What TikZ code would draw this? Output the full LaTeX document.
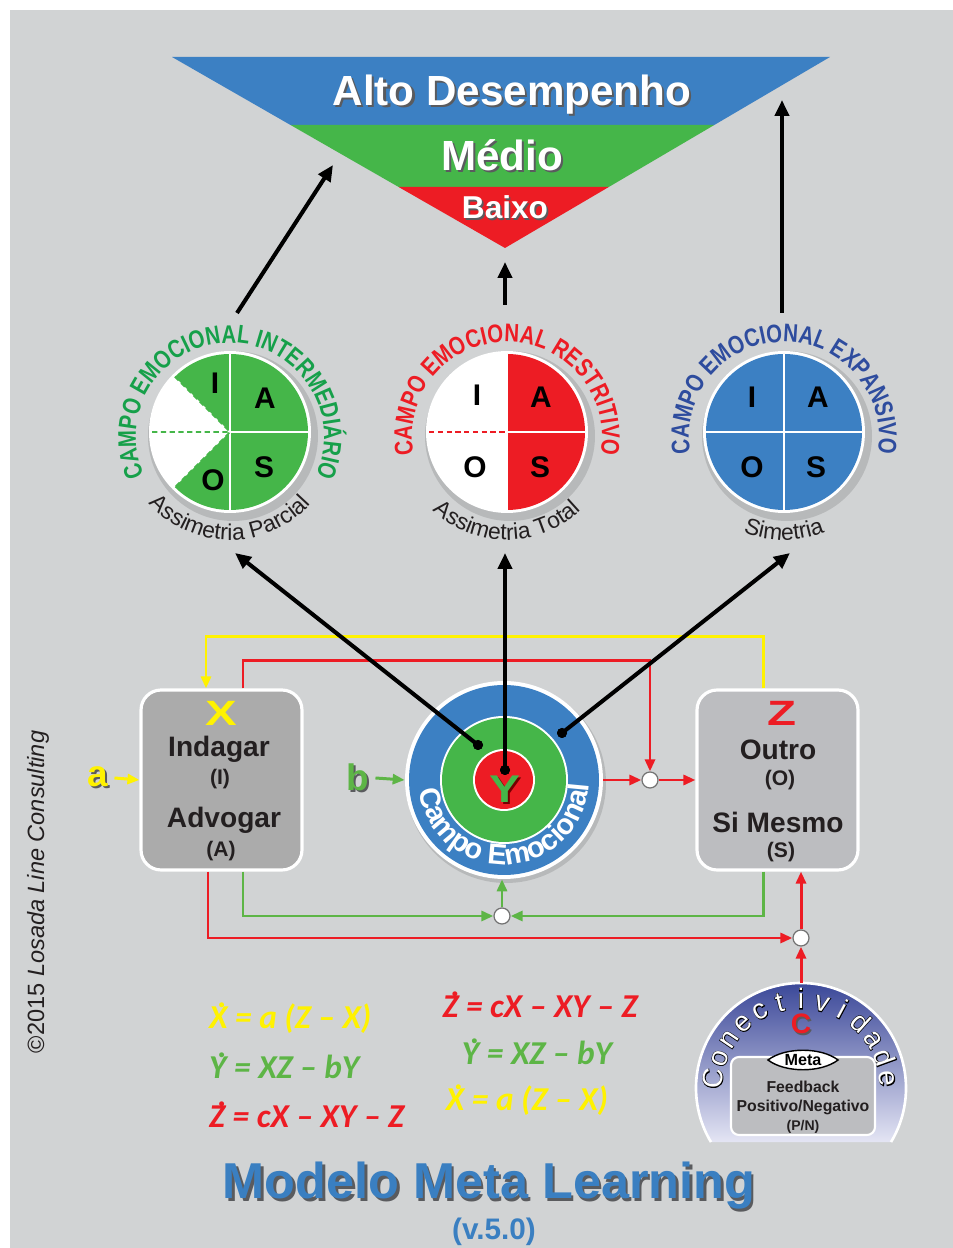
\documentclass[tikz,border=0pt]{standalone}
\usepackage{fontspec}
\setmainfont{Liberation Sans}
\newfontfamily\condfont[FakeStretch=0.8]{Liberation Sans}
\newfontfamily\outfont[FakeBold=4]{Liberation Sans}
\newfontfamily\eqfont{Carlito}
\usetikzlibrary{arrows.meta,decorations.text,calc}

\definecolor{bgGray}{HTML}{D1D3D4}
\definecolor{ceBlue}{HTML}{3C80C3}
\definecolor{ceGreen}{HTML}{45B649}
\definecolor{ceRed}{HTML}{ED1C24}
\definecolor{txtGreen}{HTML}{16A04A}
\definecolor{txtBlue}{HTML}{2E4C9E}
\definecolor{txtDark}{HTML}{231F20}
\definecolor{lnYellow}{HTML}{FFF200}
\definecolor{lnGreen}{HTML}{5DB546}
\definecolor{boxDark}{HTML}{ABABAB}
\definecolor{boxLight}{HTML}{BCBDC0}
\definecolor{domeTop}{HTML}{2B3990}
\definecolor{domeMid}{HTML}{6C72BC}
\definecolor{domeBot}{HTML}{E4E5F4}
\definecolor{titleBlue}{HTML}{3A7FC1}
\definecolor{shade}{HTML}{5A5B5E}

\newcommand\fsz[1]{\fontsize{#1}{#1}\selectfont}
\newcommand\eqdot[1]{\leavevmode\rlap{\hspace{0.26em}\raisebox{0.64em}{.}}#1}
\newcommand\shadowed[2]{\leavevmode\rlap{\hspace{0.05em}\raisebox{-0.05em}{\color{#1}#2}}#2}
\newcommand\outlined[1]{\leavevmode\rlap{\outfont\color{black}#1}{\color{white}#1}}

\begin{document}
\begin{tikzpicture}[x=0.02cm, y=0.02cm,
    arrowblack/.style={line width=2.3pt, draw=black, -{Triangle[length=0.32cm, width=0.28cm]}},
    arrowcol/.style={line width=1.7pt, -{Triangle[length=0.24cm, width=0.2cm]}},
    lineyel/.style={arrowcol, draw=lnYellow},
    linered/.style={arrowcol, draw=ceRed},
    linegrn/.style={arrowcol, draw=lnGreen},
    fieldletter/.style={font=\bfseries\fsz{17}, text=black},
    boxtitle/.style={font=\bfseries\fsz{16}, text=txtDark},
    boxsub/.style={font=\bfseries\fsz{12}, text=txtDark},
    varbox/.style={rounded corners=0.4cm, draw=white, line width=1.8pt, minimum width=3.22cm, minimum height=3.6cm},
    junction/.style={circle, draw=black!55, fill=white, line width=0.7pt, minimum size=0.32cm, inner sep=0pt},
    blackdot/.style={circle, fill=black, minimum size=0.2cm, inner sep=0pt},
    eqtext/.style={font=\eqfont\bfseries\itshape\fsz{19}},
    conletter/.style={font=\fsz{16}},
  ]
  \useasboundingbox (0,0) rectangle (953,1248);
  \fill[white] (0,0) rectangle (953,1248);
  \fill[bgGray] (10,0) rectangle (953,1238);

  % Funnel of performance
  \fill[ceBlue] (172,1191) -- (830,1191) -- (714.3,1123) -- (290.5,1123) -- cycle;
  \fill[ceGreen] (290.5,1123) -- (714.3,1123) -- (608.8,1061) -- (398.6,1061) -- cycle;
  \fill[ceRed] (398.6,1061) -- (608.8,1061) -- (505,1000) -- cycle;
  \node[text=white, font=\bfseries\fsz{24}] (alto) at (512,1152) {\shadowed{shade}{Alto Desempenho}};
  \node[text=white, font=\bfseries\fsz{24}] (medio) at (502,1092) {\shadowed{shade}{Médio}};
  \node[text=white, font=\bfseries\fsz{18}] (baixo) at (505,1040) {\shadowed{shade}{Baixo}};
  \coordinate (funL) at (333,1083);
  \coordinate (funM) at (505,986);
  \coordinate (funR) at (782,1148);

  % Campo emocional intermediario
  \begin{scope}[shift={(230,816)}]
    \fill[black, opacity=0.12] (3,-4) circle (85);
    \node (ceInter) [circle, fill=white, minimum size=3.24cm, inner sep=0pt] at (0,0) {};
    \fill[ceGreen] (0,0) -- (135:78) arc[start angle=135, end angle=-135, radius=78] -- cycle;
    \draw[white, line width=1.2pt] (0,78) -- (0,-78) (0,0) -- (78,0);
    \draw[ceGreen, line width=1pt, dash pattern=on 3pt off 2pt] (135:78) -- (0,0) -- (225:78) (180:78) -- (0,0);
    \node[fieldletter] (iInt) at (-15,49) {I};
    \node[fieldletter] (aInt) at (35,34) {A};
    \node[fieldletter] (oInt) at (-17,-48) {O};
    \node[fieldletter] (sInt) at (34,-35) {S};
    \path[decorate, decoration={text along path, text align=center, text color=txtGreen,
        text={|\condfont\bfseries\fsz{14.5}|CAMPO EMOCIONAL INTERMEDIÁRIO}}]
      (0,-5) ++(214:94) arc[start angle=214, end angle=-34, radius=94];
    \path[decorate, decoration={text along path, text align=center, text color=txtDark,
        text={|\fsz{13}|Assimetria Parcial}}]
      (0,0) ++(212:108) arc[start angle=212, end angle=328, radius=108];
    \coordinate (topInter) at (7,119);
    \coordinate (tipInter) at (5,-121);
  \end{scope}

  % Campo emocional restritivo
  \begin{scope}[shift={(507,816)}]
    \fill[black, opacity=0.12] (3,-4) circle (85);
    \node (ceRestr) [circle, fill=white, minimum size=3.24cm, inner sep=0pt] at (0,0) {};
    \fill[ceRed] (0,78) arc[start angle=90, end angle=-90, radius=78] -- cycle;
    \draw[white, line width=1.2pt] (0,78) -- (0,-78) (0,0) -- (78,0);
    \draw[ceRed, line width=1pt, dash pattern=on 3pt off 2pt] (180:78) -- (0,0);
    \node[fieldletter] (iRes) at (-30,37) {I};
    \node[fieldletter] (aRes) at (34,35) {A};
    \node[fieldletter] (oRes) at (-32,-35) {O};
    \node[fieldletter] (sRes) at (33,-35) {S};
    \path[decorate, decoration={text along path, text align=center, text color=ceRed,
        text={|\condfont\bfseries\fsz{14.5}|CAMPO EMOCIONAL RESTRITIVO}}]
      (0,-5) ++(200:95) arc[start angle=200, end angle=-20, radius=95];
    \path[decorate, decoration={text along path, text align=center, text color=txtDark,
        text={|\fsz{13}|Assimetria Total}}]
      (0,0) ++(212:108) arc[start angle=212, end angle=328, radius=108];
    \coordinate (topRestr) at (-2,127);
    \coordinate (tipRestr) at (-2,-121);
  \end{scope}

  % Campo emocional expansivo
  \begin{scope}[shift={(784,816)}]
    \fill[black, opacity=0.12] (3,-4) circle (85);
    \node (ceExp) [circle, fill=white, minimum size=3.24cm, inner sep=0pt] at (0,0) {};
    \fill[ceBlue] (0,0) circle (78);
    \draw[white, line width=1.2pt] (0,78) -- (0,-78) (-78,0) -- (78,0);
    \node[fieldletter] (iExp) at (-32,35) {I};
    \node[fieldletter] (aExp) at (34,35) {A};
    \node[fieldletter] (oExp) at (-32,-35) {O};
    \node[fieldletter] (sExp) at (32,-35) {S};
    \path[decorate, decoration={text along path, text align=center, text color=txtBlue,
        text={|\condfont\bfseries\fsz{14.5}|CAMPO EMOCIONAL EXPANSIVO}}]
      (0,-5) ++(200:95) arc[start angle=200, end angle=-20, radius=95];
    \path[decorate, decoration={text along path, text align=center, text color=txtDark,
        text={|\fsz{13}|Simetria}}]
      (0,0) ++(240:108) arc[start angle=240, end angle=300, radius=108];
    \coordinate (topExp) at (-2,119);
    \coordinate (tipExp) at (6,-121);
  \end{scope}

  % Arrows to the funnel
  \draw[arrowblack] (topInter) -- (funL);
  \draw[arrowblack] (topRestr) -- (funM);
  \draw[arrowblack] (topExp) -- (funR);

  % Feedback loops
  \node[junction] (j1) at (650,468) {};
  \node[junction] (j2) at (502,332) {};
  \node[junction] (j3) at (801,310) {};
  \node (xbox) [varbox, fill=boxDark] at (221.5,468) {};
  \node (zbox) [varbox, fill=boxLight] at (777.5,468) {};
  \draw[lineyel] ([xshift=-0.29cm]zbox.north) -- ++(0,52) -| ([xshift=-0.31cm]xbox.north);
  \draw[linered] ([xshift=0.43cm]xbox.north) -- ++(0,28) -| (j1.north);
  \draw[linegrn] ([xshift=0.43cm]xbox.south) |- (j2.west);
  \draw[linegrn] ([xshift=-0.29cm]zbox.south) |- (j2.east);
  \draw[linered] ([xshift=-0.27cm]xbox.south) |- (j3.west);
  \draw[linered] (j1.east) -- (zbox.west);
  \draw[linered] (j3.north) -- (j3.north |- zbox.south);

  % Campo emocional (Y)
  \fill[black, opacity=0.12] (506,465) circle (100);
  \node (cem) [circle, fill=white, minimum size=3.96cm, inner sep=0pt] at (504,468) {};
  \fill[ceBlue] (cem.center) circle (95);
  \fill[white] (cem.center) circle (64);
  \fill[ceGreen] (cem.center) circle (62);
  \fill[white] (cem.center) circle (31);
  \fill[ceRed] (cem.center) circle (29);
  \path[decorate, decoration={text along path, text align=center, text color=white,
      text={|\bfseries\fsz{16.5}|Campo Emocional}}]
    (cem.center) ++(178:85) arc[start angle=178, end angle=366, radius=85];
  \node[text=ceGreen, font=\bfseries\fsz{22}, xscale=1.2] (yVar) at (505,458) {\shadowed{red!45!black}{Y}};
  \draw[linered] (cem.east) -- (j1.west);
  \draw[linegrn] (j2.north) -- (j2.north |- cem.south);

  % Arrows from the field
  \node[blackdot] (dotL) at (478,503) {};
  \node[blackdot] (dotM) at (505,478) {};
  \node[blackdot] (dotR) at (562,515) {};
  \draw[arrowblack] (dotL.center) -- (tipInter);
  \draw[arrowblack] (dotM.center) -- (tipRestr);
  \draw[arrowblack] (dotR.center) -- (tipExp);
  \fill (dotL) circle (5) (dotM) circle (5) (dotR) circle (5);

  % Box texts
  \node[text=lnYellow, font=\bfseries\fsz{20}, xscale=1.35] (xVar) at (221,535) {X};
  \node[boxtitle] (indagar) at (219,499) {Indagar};
  \node[boxsub] (iLab) at (220,469) {(I)};
  \node[boxtitle] (advogar) at (224,428) {Advogar};
  \node[boxsub] (aLab) at (221,397) {(A)};
  \node[text=ceRed, font=\bfseries\fsz{20}, xscale=1.35] (zVar) at (782,535) {Z};
  \node[boxtitle] (outro) at (778,498) {Outro};
  \node[boxsub] (oLab) at (780,468) {(O)};
  \node[boxtitle] (simesmo) at (778,426) {Si Mesmo};
  \node[boxsub] (sLab) at (781,396) {(S)};

  % Parameters a and b
  \node[text=lnYellow, font=\bfseries\fsz{21}] (alab) at (98,470) {\shadowed{shade}{a}};
  \draw[lineyel] (alab.east) -- (xbox.west);
  \node[text=lnGreen, font=\bfseries\fsz{21}] (blab) at (358,470) {\shadowed{shade}{b}};
  \draw[linegrn] (blab.east) -- (cem.west);

  % Conectividade
  \coordinate (domeC) at (801,160);
  \shade[top color=domeTop, middle color=domeMid, bottom color=domeBot]
    (domeC) ++(-31:105) arc[start angle=-31, end angle=211, radius=105] -- cycle;
  \draw[white, line width=1.5pt] (domeC) ++(-31:105) arc[start angle=-31, end angle=211, radius=105];
  \coordinate (dometop) at (801,265);
  \draw[linered] (dometop) -- (j3.south);
  \foreach \ch [count=\i from 0] in {C,o,n,e,c,t,i,v,i,d,a,d,e} {
    \pgfmathsetmacro\ang{174-14*\i}
    \node[conletter, anchor=base, rotate=\ang-90] (con\i) at ($(domeC)+(\ang:79)$) {\outlined{\ch}};
  }
  \node[text=ceRed, font=\bfseries\fsz{16}] (cVar) at (801,223) {\shadowed{shade}{C}};
  \node (fbox) [rounded corners=0.16cm, draw=white, line width=1.2pt, fill=boxLight,
    minimum width=2.88cm, minimum height=1.56cm] at (803,152) {};
  \fill[white, draw=black, line width=0.8pt] (768,188) .. controls (785,201) and (821,201) .. (838,188)
    .. controls (821,175) and (785,175) .. cycle;
  \node[font=\bfseries\fsz{9.2}] (meta) at (803,188) {Meta};
  \node[font=\bfseries\fsz{9}, text=txtDark] (feedback) at (803,161) {Feedback};
  \node[font=\bfseries\fsz{9}, text=txtDark] (posneg) at (803,141) {Positivo/Negativo};
  \node[font=\bfseries\fsz{8}, text=txtDark] (pn) at (803,121) {(P/N)};

  % Equations
  \node[eqtext, text=lnYellow, anchor=west] (eqX1) at (203,230) {\eqdot{X} = a (Z – X)};
  \node[eqtext, text=lnGreen, anchor=west] (eqY1) at (203,182) {\eqdot{Y} = XZ – bY};
  \node[eqtext, text=ceRed, anchor=west] (eqZ1) at (203,133) {\eqdot{Z} = cX – XY – Z};
  \node[eqtext, text=ceRed] (eqZ2) at (540,243) {\eqdot{Z} = cX – XY – Z};
  \node[eqtext, text=lnGreen] (eqY2) at (537,196) {\eqdot{Y} = XZ – bY};
  \node[eqtext, text=lnYellow] (eqX2) at (527,148) {\eqdot{X} = a (Z – X)};

  % Title and credit
  \node[text=titleBlue, font=\bfseries\fsz{28.7}] (title) at (489,61) {\shadowed{shade}{Modelo Meta Learning}};
  \node[text=titleBlue, font=\bfseries\fsz{16.9}] (version) at (494,16) {(v.5.0)};
  \node[rotate=90, text=txtDark, font=\fsz{13.4}] (credit) at (38,356) {©2015 \textit{Losada Line Consulting}};
\end{tikzpicture}
\end{document}
